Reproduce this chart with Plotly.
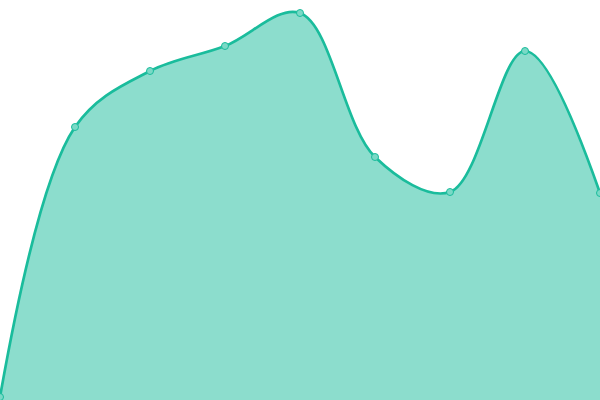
import plotly.graph_objects as go

x_vals = [0, 1, 2, 3, 4, 5, 6, 7, 8]
y_vals = [3, 273, 329, 354, 387, 243, 208, 349, 207]

fig = go.Figure()
fig.add_trace(go.Scatter(
    x=x_vals, y=y_vals,
    mode="lines+markers",
    line=dict(shape="spline", smoothing=1.0, color="#1abc9c", width=2.7),
    fill="tozeroy",
    fillcolor="rgba(26,188,156,0.5)",
    marker=dict(size=7, color="#7ad9c6", line=dict(color="#1abc9c", width=1)),
    hoverinfo="skip",
    cliponaxis=False,
))
fig.update_layout(
    width=600, height=400,
    margin=dict(l=0, r=0, t=0, b=0),
    paper_bgcolor="white", plot_bgcolor="white",
    showlegend=False,
    xaxis=dict(range=[0, 8], visible=False, fixedrange=True),
    yaxis=dict(range=[0, 400], visible=False, fixedrange=True),
)
fig.write_html(
    "out.html",
    config={"displayModeBar": False},
    post_script="document.body.style.margin='0';document.body.style.overflow='hidden';",
)
